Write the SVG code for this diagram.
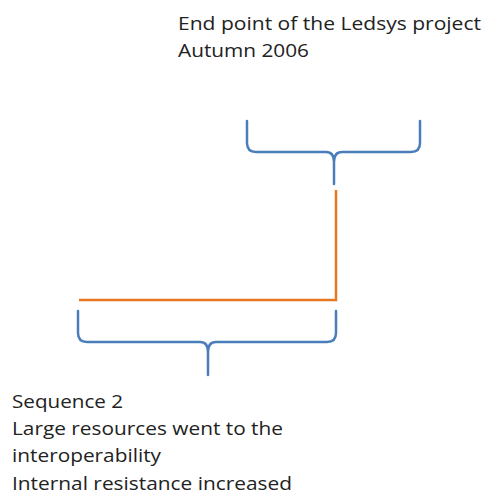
<svg xmlns="http://www.w3.org/2000/svg" width="484" height="498" viewBox="0 0 484 498">
<style>
.t{font-family:"Open Sans","Liberation Sans",sans-serif;font-size:18.5px;fill:#222}
.b{fill:none;stroke:#4a7ebb;stroke-width:2.5;stroke-linecap:round}
.o{fill:none;stroke:#e87722;stroke-width:2.5}
</style>
<rect width="484" height="498" fill="#fff"/>
<g id="top-label">
<text class="t" x="178" y="30" textLength="303" lengthAdjust="spacingAndGlyphs">End point of the Ledsys project</text>
<text class="t" x="178" y="57" textLength="131" lengthAdjust="spacingAndGlyphs">Autumn 2006</text>
</g>
<g id="top-brace">
<path class="b" d="M247,121 V143 Q247,152 256,152 H326 Q334,152 334,162 V184 M334,162 Q334,152 342,152 H411 Q420,152 420,143 V121"/>
</g>
<g id="bottom-brace">
<path class="b" d="M78,311 V333 Q78,342 87,342 H200 Q208,342 208,352 V375 M208,352 Q208,342 216,342 H327 Q336,342 336,333 V311"/>
</g>
<g id="connectors">
<path class="o" d="M336,190 V300 H79"/>
</g>
<g id="bottom-label">
<text class="t" x="12" y="408" textLength="111" lengthAdjust="spacingAndGlyphs">Sequence 2</text>
<text class="t" x="12" y="435" textLength="271" lengthAdjust="spacingAndGlyphs">Large resources went to the</text>
<text class="t" x="12" y="462" textLength="149" lengthAdjust="spacingAndGlyphs">interoperability</text>
<text class="t" x="12" y="490" textLength="280" lengthAdjust="spacingAndGlyphs">Internal resistance increased</text>
</g>
</svg>
